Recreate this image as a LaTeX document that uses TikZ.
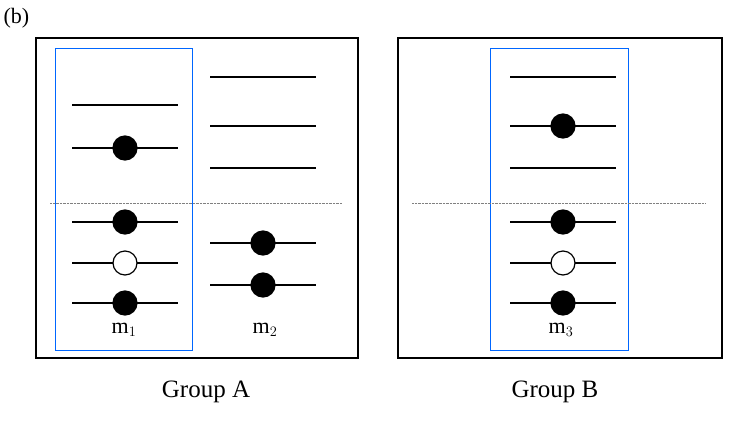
\documentclass[tikz,border=0pt]{standalone}
\usepackage{fontspec}
\setmainfont{Liberation Serif}
\begin{document}
\begin{tikzpicture}[x=1pt,y=-1pt,
            full/.style={circle,draw,fill=black,minimum size=#1,
                inner sep=0pt, outer sep=0pt},
            full/.default=24pt,
            empty/.style={circle,draw,fill=white,minimum size=24pt,
                inner sep=0pt, outer sep=0pt},
            level/.style={line width=1.2pt},
            group/.style={draw,line width=1.4pt},
            orbital/.style={draw=blue!60!cyan,line width=1pt}
        ]
        \useasboundingbox (0,0) rectangle (747,421);
        \node[anchor=west,font=\fontsize{22}{24}\selectfont] (tag) at (0,18) {(b)};
        % group boxes
        \draw[group] (36,38) rectangle (358,358);
        \draw[group] (398,38) rectangle (722,358);
        \draw[orbital] (55,48) rectangle (192,350);
        \draw[orbital] (490,48) rectangle (628,350);
        \draw[densely dotted,gray] (50,203) -- (342,203);
        \draw[densely dotted,gray] (412,203) -- (705,203);
        % m1
        \draw[level] (72,105) -- (178,105);
        \draw[level] (72,148) -- node[full] (a1) {} (178,148);
        \draw[level] (72,222) -- node[full] (a2) {} (178,222);
        \draw[level] (72,263) -- node[empty] (a3) {} (178,263);
        \draw[level] (72,303) -- node[full] (a4) {} (178,303);
        % m2
        \draw[level] (210,77) -- (316,77);
        \draw[level] (210,126) -- (316,126);
        \draw[level] (210,168) -- (316,168);
        \draw[level] (210,243) -- node[full] (b1) {} (316,243);
        \draw[level] (210,285) -- node[full] (b2) {} (316,285);
        % m3
        \draw[level] (510,77) -- (616,77);
        \draw[level] (510,126) -- node[full] (c1) {} (616,126);
        \draw[level] (510,168) -- (616,168);
        \draw[level] (510,222) -- node[full] (c2) {} (616,222);
        \draw[level] (510,263) -- node[empty] (c3) {} (616,263);
        \draw[level] (510,303) -- node[full] (c4) {} (616,303);
        % labels
        \node[font=\fontsize{22}{24}\selectfont] (m1) at (124,330) {m$_1$};
        \node[font=\fontsize{22}{24}\selectfont] (m2) at (265,330) {m$_2$};
        \node[font=\fontsize{22}{24}\selectfont] (m3) at (561,330) {m$_3$};
        \node[font=\fontsize{25}{28}\selectfont] (ga) at (206,392) {Group A};
        \node[font=\fontsize{25}{28}\selectfont] (gb) at (555,392) {Group B};
    \end{tikzpicture}
\end{document}
